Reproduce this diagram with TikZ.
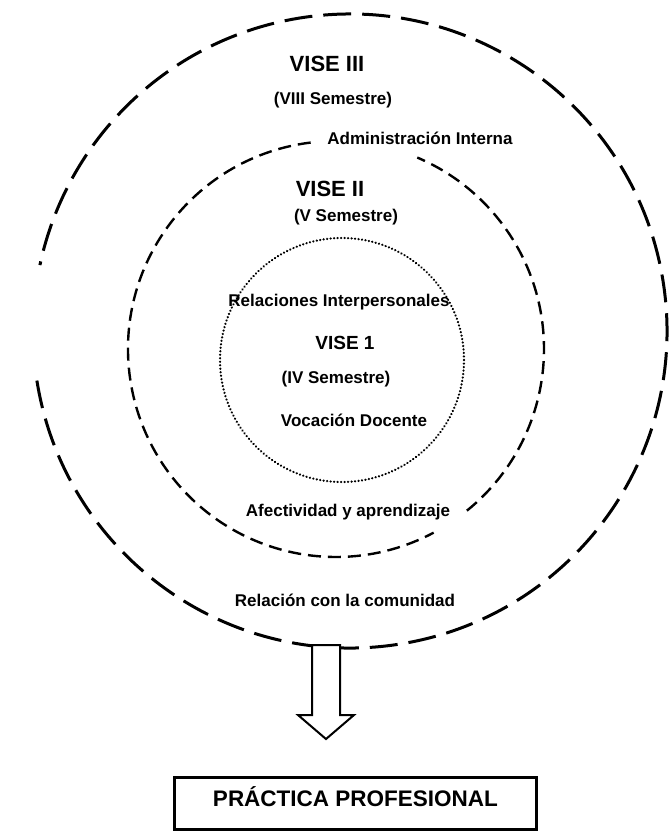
\documentclass[tikz,border=0pt]{standalone}
\usepackage{fontspec}
\setmainfont{Liberation Sans}
\usepackage{tikz}
\usetikzlibrary{calc,positioning}

\begin{document}
\begin{tikzpicture}[x=1pt,y=1pt,
        lbl/.style={inner sep=0pt, font=\fontsize{17}{20}\selectfont\bfseries, text height=12pt, text depth=0pt},
        big/.style={lbl, font=\fontsize{22}{26}\selectfont\bfseries, text height=16pt},
        outerring/.style={line width=3pt, dash pattern=on 28pt off 11pt},
        midring/.style={line width=2.4pt, dash pattern=on 13pt off 7pt},
        innerring/.style={line width=2.4pt, dash pattern=on 0.1pt off 3.4pt, line cap=round}]

        \useasboundingbox (0,0) rectangle (669,-831);

        % Centres of the three rings
        \coordinate (c3) at (350,-331);
        \coordinate (c2) at (336,-349);
        \coordinate (c1) at (342,-360);

        % Draw the rings (with their gaps)
        \draw[outerring] (c3) ++(189:317pt) arc[start angle=189, end angle=528, radius=317pt];
        \draw[midring] (c2) ++(97:208pt) arc[start angle=97, end angle=298, radius=208pt];
        \draw[midring] (c2) ++(309:208pt) arc[start angle=309, end angle=427, radius=208pt];
        \draw[innerring] (c1) circle (122pt);

        % Labels of the rings
        \node[big] (vise3) at (327,-63) {VISE III};
        \node[lbl] (sem3) at (333,-98) {(VIII Semestre)};
        \node[lbl] (admin) at (420,-138) {Administración Interna};
        \node[big] (vise2) at (330,-188) {VISE II};
        \node[lbl] (sem2) at (346,-215) {(V Semestre)};
        \node[lbl] (relint) at (339,-300) {Relaciones Interpersonales};
        \node[lbl, font=\fontsize{19}{22}\selectfont\bfseries, text height=13.6pt] (vise1) at (345,-343) {VISE 1};
        \node[lbl] (sem1) at (336,-377) {(IV Semestre)};
        \node[lbl] (vocdoc) at (354,-420) {Vocación Docente};
        \node[lbl] (afect) at (348,-510) {Afectividad y aprendizaje};
        \node[lbl] (relcom) at (345,-600) {Relación con la comunidad};

        % Draw the hollow arrow over the outer ring
        \coordinate (atop) at (326,-645);
        \draw[line width=2pt, fill=white] (atop) -- ++(14,0) -- ++(0,-70) -- ++(14,0) -- ++(-28,-24)
            -- ++(-28,24) -- ++(14,0) -- ++(0,70) -- cycle;

        % Box at the bottom
        \node[draw, line width=3pt, minimum width=362pt, minimum height=51.5pt, inner sep=0pt,
            text height=16pt, text depth=10pt, font=\fontsize{22.5}{26}\selectfont\bfseries]
            (practica) at (355.5,-803.3) {PRÁCTICA PROFESIONAL};

    \end{tikzpicture}
\end{document}
